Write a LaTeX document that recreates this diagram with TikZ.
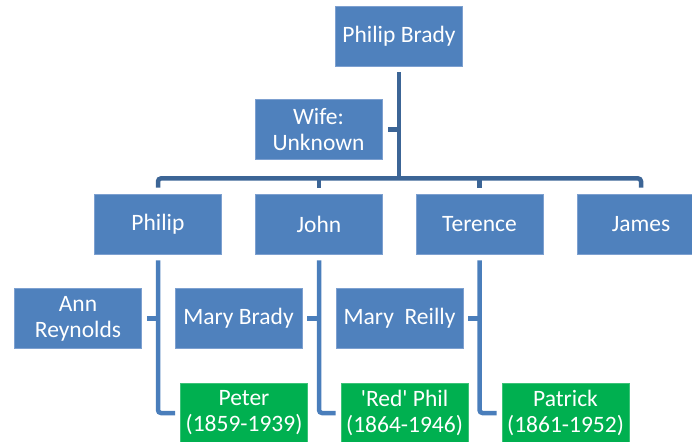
\documentclass[tikz,border=0pt]{standalone}
\usepackage{fontspec}
\setmainfont{Carlito}[Ligatures=TeXOff]
\usetikzlibrary{calc}
\definecolor{boxblue}{RGB}{79,129,189}
\definecolor{boxedge}{RGB}{125,160,208}
\definecolor{boxgreen}{RGB}{0,176,80}
\definecolor{greenedge}{RGB}{60,195,120}
\definecolor{topline}{RGB}{60,101,150}
\definecolor{lowline}{RGB}{74,126,187}
\tikzset{
  person/.style={rectangle, fill=boxblue, draw=boxedge, line width=0.8pt,
    minimum width=127pt, minimum height=60pt, inner sep=0pt, text=white,
    align=center, font=\fontsize{23.5}{26}\selectfont},
  child/.style={person, fill=boxgreen, draw=greenedge},
  topconn/.style={draw=topline, line width=4.5pt},
  lowconn/.style={draw=lowline, line width=4.5pt}
}
\begin{document}
\begin{tikzpicture}[x=1pt,y=-1pt]
\useasboundingbox (0,0) rectangle (692,441);
\clip (0,0) rectangle (692,441);
\node[person] (PB) at (399,36) {Philip Brady};
\node[person] (Wife) at (318.5,129.5) {Wife:\\Unknown};
\node[person] (Philip) at (158,224) {Philip};
\node[person] (John) at (319,224) {John};
\node[person] (Terence) at (479.5,224) {Terence};
\node[person] (James) at (641,224) {James};
\node[person] (Ann) at (78,318.5) {Ann\\Reynolds};
\node[person] (MaryB) at (238.5,318.5) {Mary Brady};
\node[person] (MaryR) at (399.5,318.5) {Mary\ \ Reilly};
\node[child] (Peter) at (244,413) {Peter\\(1859-1939)};
\node[child] (Red) at (404.5,413) {'Red' Phil\\(1864-1946)};
\node[child] (Patrick) at (565.5,413) {Patrick\\(1861-1952)};
% top level
\path (PB.south) ++(0,112) coordinate (hub);
\draw[topconn] ([yshift=-6pt]PB.south) -- (hub);
\draw[topconn, rounded corners=3pt] ([yshift=6pt]Philip.north) |- (hub) -| ([yshift=6pt]James.north);
\draw[topconn] ([yshift=6pt]John.north) -- (John.north |- hub);
\draw[topconn] ([yshift=6pt]Terence.north) -- (Terence.north |- hub);
\draw[topconn] ([xshift=6pt]Wife.east) -- (Wife.east -| hub);
% lower levels
\draw[lowconn, rounded corners=3pt] ([yshift=-6pt]Philip.south) |- ([xshift=-5pt]Peter.west);
\draw[lowconn] ([xshift=5pt]Ann.east) -- (Ann.east -| Philip.south);
\draw[lowconn, rounded corners=3pt] ([yshift=-6pt]John.south) |- ([xshift=-5pt]Red.west);
\draw[lowconn] ([xshift=5pt]MaryB.east) -- (MaryB.east -| John.south);
\draw[lowconn, rounded corners=3pt] ([yshift=-6pt]Terence.south) |- ([xshift=-5pt]Patrick.west);
\draw[lowconn] ([xshift=5pt]MaryR.east) -- (MaryR.east -| Terence.south);
\end{tikzpicture}
\end{document}
